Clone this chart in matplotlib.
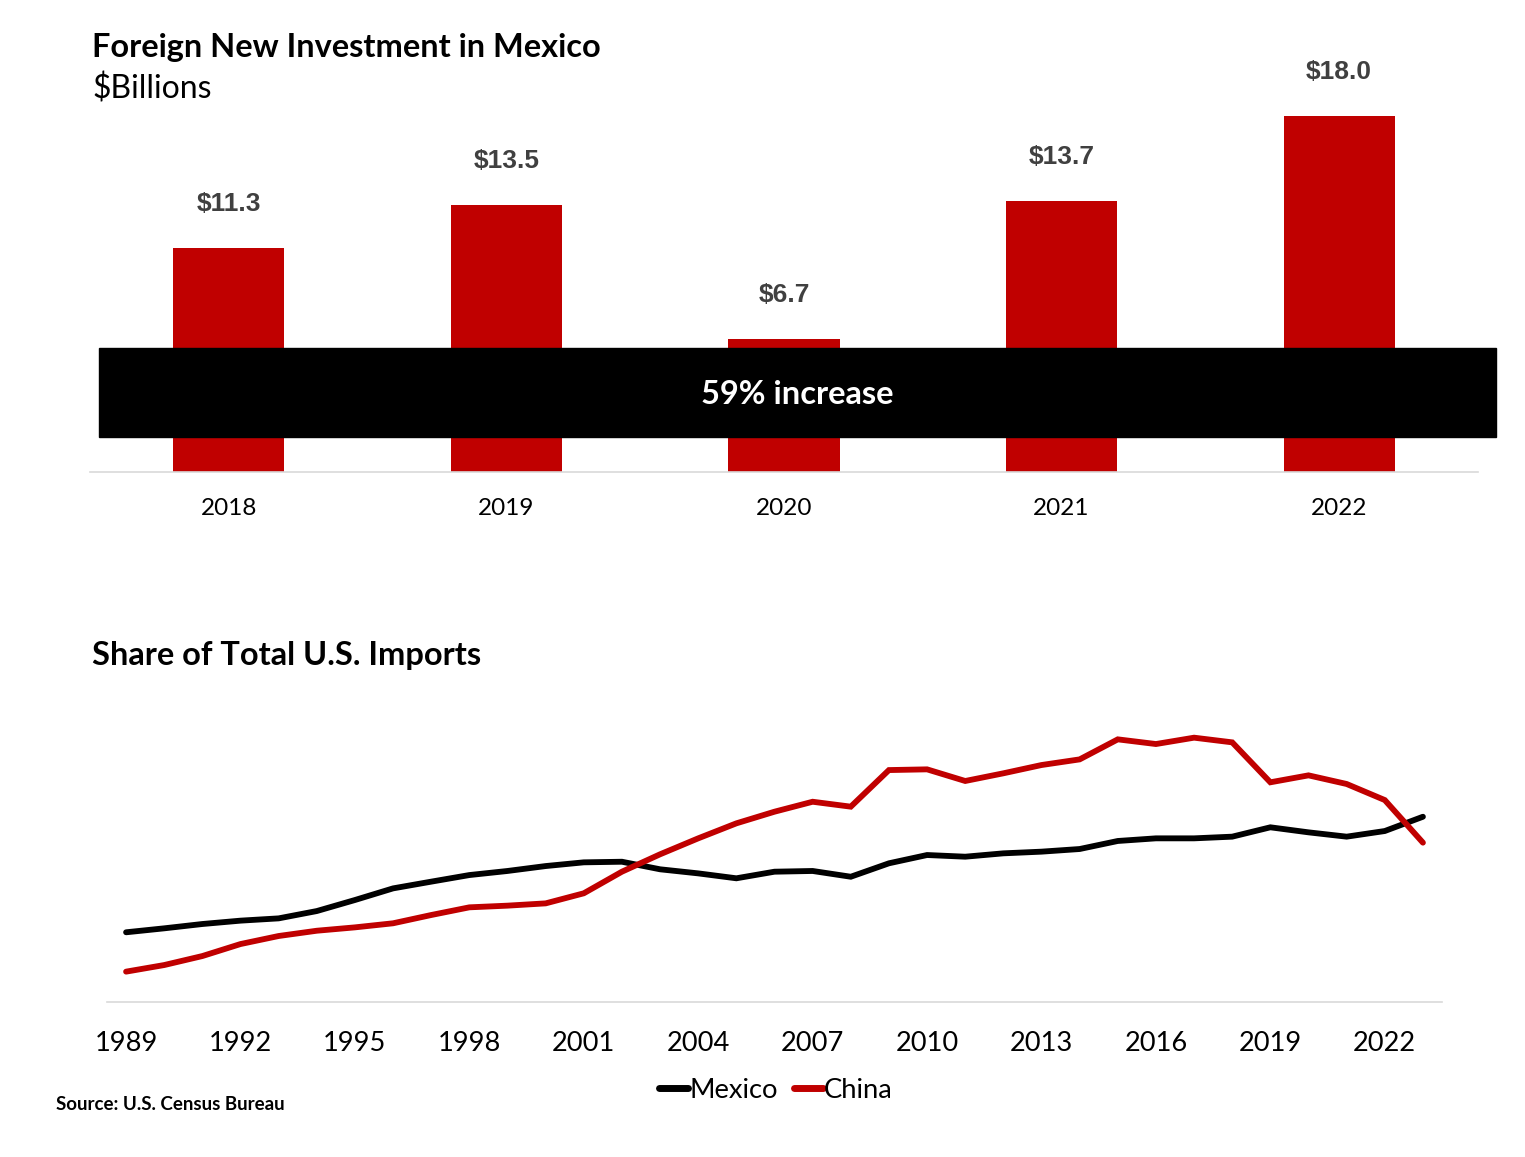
import matplotlib.pyplot as plt
from matplotlib.patches import Rectangle

# Foreign new investment in Mexico, $ billions
Years = ['2018', '2019', '2020', '2021', '2022']
Inversion = [11.3, 13.5, 6.7, 13.7, 18.0]

# Share of total U.S. imports (%)
AniosImp = list(range(1989, 2024))
Mexico = [5.81, 6.14, 6.50, 6.78, 6.97, 7.58, 8.50, 9.47, 10.03, 10.58,
          10.92, 11.33, 11.64, 11.69, 11.06, 10.72, 10.31, 10.86, 10.92, 10.44,
          11.56, 12.25, 12.11, 12.39, 12.53, 12.75, 13.42, 13.64, 13.64, 13.78,
          14.56, 14.14, 13.78, 14.25, 15.44]
China = [2.53, 3.08, 3.83, 4.83, 5.50, 5.94, 6.22, 6.56, 7.25, 7.89,
         8.03, 8.22, 9.06, 10.86, 12.31, 13.64, 14.89, 15.86, 16.69, 16.28,
         19.33, 19.39, 18.42, 19.06, 19.75, 20.22, 21.89, 21.50, 22.03, 21.64,
         18.31, 18.89, 18.17, 16.83, 13.28]
TickYears = list(range(1989, 2023, 3))

Rojo = '#C00000'
Gris = '#D9D9D9'
W, H = 1525, 1157

plt.rcParams['font.family'] = ['Lato', 'DejaVu Sans']

Fig = plt.figure(figsize=(W / 100, H / 100), dpi=100)

def Px(x, y):
    return x / W, 1 - y / H

# top chart: bars
Ax = Fig.add_axes([90 / W, 1 - 472 / H, 1388 / W, 432 / H])
Bars = Ax.bar(range(len(Years)), Inversion, width=0.4, color=Rojo, zorder=2)
Ax.set_xlim(-0.5, len(Years) - 0.5)
Ax.set_ylim(0, 21.84)
for Bar, V in zip(Bars, Inversion):
    Ax.annotate(f'${V:.1f}', (Bar.get_x() + Bar.get_width() / 2, V),
                xytext=(0, 32), textcoords='offset points',
                ha='center', va='center', fontsize=19, fontweight='bold',
                color='#404040', family=['Liberation Sans', 'DejaVu Sans'],
                annotation_clip=False)
Ax.set_xticks(range(len(Years)))
Ax.set_xticklabels(Years, fontsize=17.5)
Ax.tick_params(axis='x', length=0, pad=19)
Ax.set_yticks([])
for S in ['top', 'right', 'left']:
    Ax.spines[S].set_visible(False)
Ax.spines['bottom'].set_color(Gris)
Ax.spines['bottom'].set_linewidth(1.2)

# black banner over the bars
X0, Y0 = Px(99, 437)
X1, Y1 = Px(1496, 348)
Fig.add_artist(Rectangle((X0, Y0), X1 - X0, Y1 - Y0, transform=Fig.transFigure,
                         color='black', zorder=5))
Fig.text(*Px(797, 394), '59% increase', color='white', fontsize=23.5,
         fontweight='bold', ha='center', va='center', zorder=6)

Fig.text(*Px(92, 47), 'Foreign New Investment in Mexico', fontsize=23.4,
         fontweight='bold', ha='left', va='center')
Fig.text(*Px(92, 89), '$Billions', fontsize=23, ha='left', va='center')

# bottom chart: lines
Ax2 = Fig.add_axes([107 / W, 1 - 1002 / H, 1335 / W, 302 / H])
Ax2.plot(AniosImp, Mexico, color='black', lw=4.2, label='Mexico',
         solid_capstyle='round', solid_joinstyle='miter')
Ax2.plot(AniosImp, China, color=Rojo, lw=4.2, label='China',
         solid_capstyle='round', solid_joinstyle='miter')
Ax2.set_xlim(1988.5, 2023.5)
Ax2.set_ylim(0, 25.17)
Ax2.set_xticks(TickYears)
Ax2.set_xticklabels([str(T) for T in TickYears], fontsize=19.6)
Ax2.tick_params(axis='x', length=0, pad=21)
Ax2.set_yticks([])
for S in ['top', 'right', 'left']:
    Ax2.spines[S].set_visible(False)
Ax2.spines['bottom'].set_color(Gris)
Ax2.spines['bottom'].set_linewidth(1.2)

Leg = Ax2.legend(loc='center', bbox_to_anchor=Px(776, 1090), bbox_transform=Fig.transFigure,
                 ncol=2, frameon=False, fontsize=19.7, handlelength=1.05,
                 handletextpad=0.05, columnspacing=0.6)
for L in Leg.get_lines():
    L.set_linewidth(5)

Fig.text(*Px(92, 656), 'Share of Total U.S. Imports', fontsize=23.4,
         fontweight='bold', ha='left', va='center')
Fig.text(*Px(56, 1104), 'Source: U.S. Census Bureau', fontsize=13.5,
         fontweight='bold', ha='left', va='center')

Fig.savefig('out.png', dpi=100)
